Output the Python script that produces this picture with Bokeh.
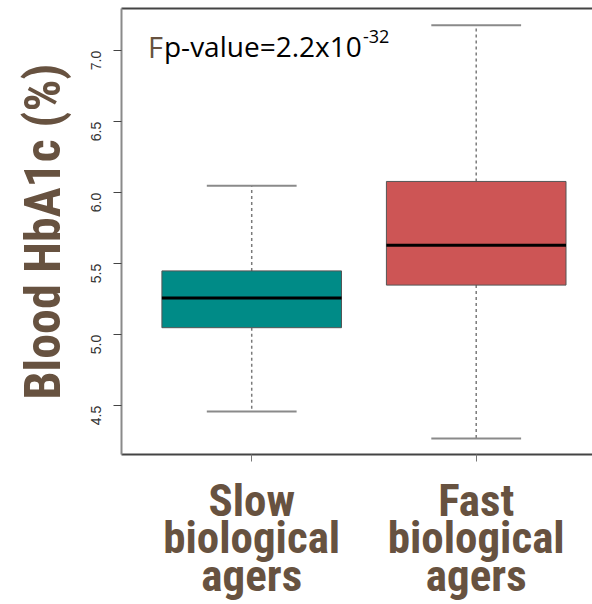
import numpy as np
from bokeh.plotting import figure
from bokeh.models import FixedTicker, LinearAxis, Range1d, Label, ColumnDataSource
from bokeh.embed import file_html
from bokeh.resources import INLINE
import math

# ---- data ----
groups = ["Slow\nbiological\nagers", "Fast\nbiological\nagers"]
positions = [1, 2]
lower_whisker = [4.46, 4.27]
q1 = [5.05, 5.35]
median = [5.26, 5.63]
q3 = [5.45, 6.08]
upper_whisker = [6.05, 7.18]
box_colors = ["#008B87", "#CD5555"]
y_ticks = [4.5, 5.0, 5.5, 6.0, 6.5, 7.0]
y_tick_labels = ["4.5", "5.0", "5.5", "6.0", "6.5", "7.0"]
y_title = "Blood HbA1c (%)"
pval_prefix = "F"
pval_text = "p-value=2.2x10"
pval_exp = "-32"

BROWN = "#675240"
COND = "Roboto Condensed, Liberation Sans Narrow, DejaVu Sans Condensed, sans-serif"

p = figure(width=592, height=604, output_backend="svg", toolbar_location=None,
           x_range=Range1d(0.42, 2.518), y_range=Range1d(4.157, 7.298),
           min_border_left=121, min_border_right=0, min_border_top=8, min_border_bottom=150,
           x_axis_location="below", y_axis_location="left")
p.outline_line_color = None
p.xgrid.visible = False
p.ygrid.visible = False
p.background_fill_color = "white"

x = np.array(positions, dtype=float)
bw = 0.8
cw = 0.4
src = ColumnDataSource(dict(
    x=x, lo=lower_whisker, q1=q1, med=median, q3=q3, hi=upper_whisker, color=box_colors,
    bx0=x - bw / 2, bx1=x + bw / 2, cx0=x - cw / 2, cx1=x + cw / 2,
))

# whiskers
p.segment(x0="x", y0="q3", x1="x", y1="hi", source=src, line_color="#7a7a7a", line_width=1.5, line_dash="3 3")
p.segment(x0="x", y0="q1", x1="x", y1="lo", source=src, line_color="#7a7a7a", line_width=1.5, line_dash="3 3")
# caps
p.segment(x0="cx0", y0="hi", x1="cx1", y1="hi", source=src, line_color="#8a8a8a", line_width=2)
p.segment(x0="cx0", y0="lo", x1="cx1", y1="lo", source=src, line_color="#8a8a8a", line_width=2)
# boxes
p.vbar(x="x", width=bw, bottom="q1", top="q3", source=src, fill_color="color",
       line_color="#555555", line_width=1)
# medians
p.segment(x0="bx0", y0="med", x1="bx1", y1="med", source=src, line_color="black", line_width=3)

# y axis
ya = p.yaxis[0]
ya.ticker = FixedTicker(ticks=y_ticks)
ya.major_label_overrides = {t: l for t, l in zip(y_ticks, y_tick_labels)}
ya.major_label_orientation = math.pi / 2
ya.major_label_text_font = "Liberation Sans"
ya.major_label_text_font_size = "14px"
ya.major_label_text_color = "#333333"
ya.major_tick_out = 8
ya.major_tick_in = 0
ya.major_tick_line_color = "#444444"
ya.minor_tick_line_color = None
ya.axis_line_color = "#8a8a8a"
ya.axis_line_width = 2
ya.major_label_standoff = 17
ya.axis_label = y_title
ya.axis_label_text_font = COND
ya.axis_label_text_font_style = "bold"
ya.axis_label_text_font_size = "50px"
ya.axis_label_text_color = BROWN
ya.axis_label_standoff = 12

# x axis
xa = p.xaxis[0]
xa.ticker = FixedTicker(ticks=positions)
xa.major_label_overrides = {pos: g for pos, g in zip(positions, groups)}
xa.major_label_text_font = COND
xa.major_label_text_font_style = "bold"
xa.major_label_text_font_size = "45px"
xa.major_label_text_color = BROWN
xa.major_label_text_line_height = 0.71
xa.major_label_standoff = 12
xa.major_tick_out = 7
xa.major_tick_in = 0
xa.major_tick_line_color = "#777777"
xa.minor_tick_line_color = None
xa.axis_line_color = "#444444"
xa.axis_line_width = 2

# top frame line
top = LinearAxis(ticker=FixedTicker(ticks=[]), axis_line_color="#444444", axis_line_width=2,
                 major_tick_line_color=None, minor_tick_line_color=None,
                 major_label_text_font_size="0px")
p.add_layout(top, "above")

# p-value annotation
lx, ly = 0.538, 6.96
p.add_layout(Label(x=lx, y=ly, y_offset=10, text=pval_prefix, text_font="Open Sans",
                   text_font_size="29px", text_color=BROWN, text_baseline="alphabetic"))
p.add_layout(Label(x=lx, y=ly, x_offset=16, y_offset=10, text=pval_text, text_font="Open Sans",
                   text_font_size="28px", text_color="black", text_baseline="alphabetic"))
p.add_layout(Label(x=lx, y=ly, x_offset=215, y_offset=20, text=pval_exp, text_font="Open Sans",
                   text_font_size="18px", text_color="black", text_baseline="alphabetic"))

open("out.html", "w").write(file_html(p, INLINE))
